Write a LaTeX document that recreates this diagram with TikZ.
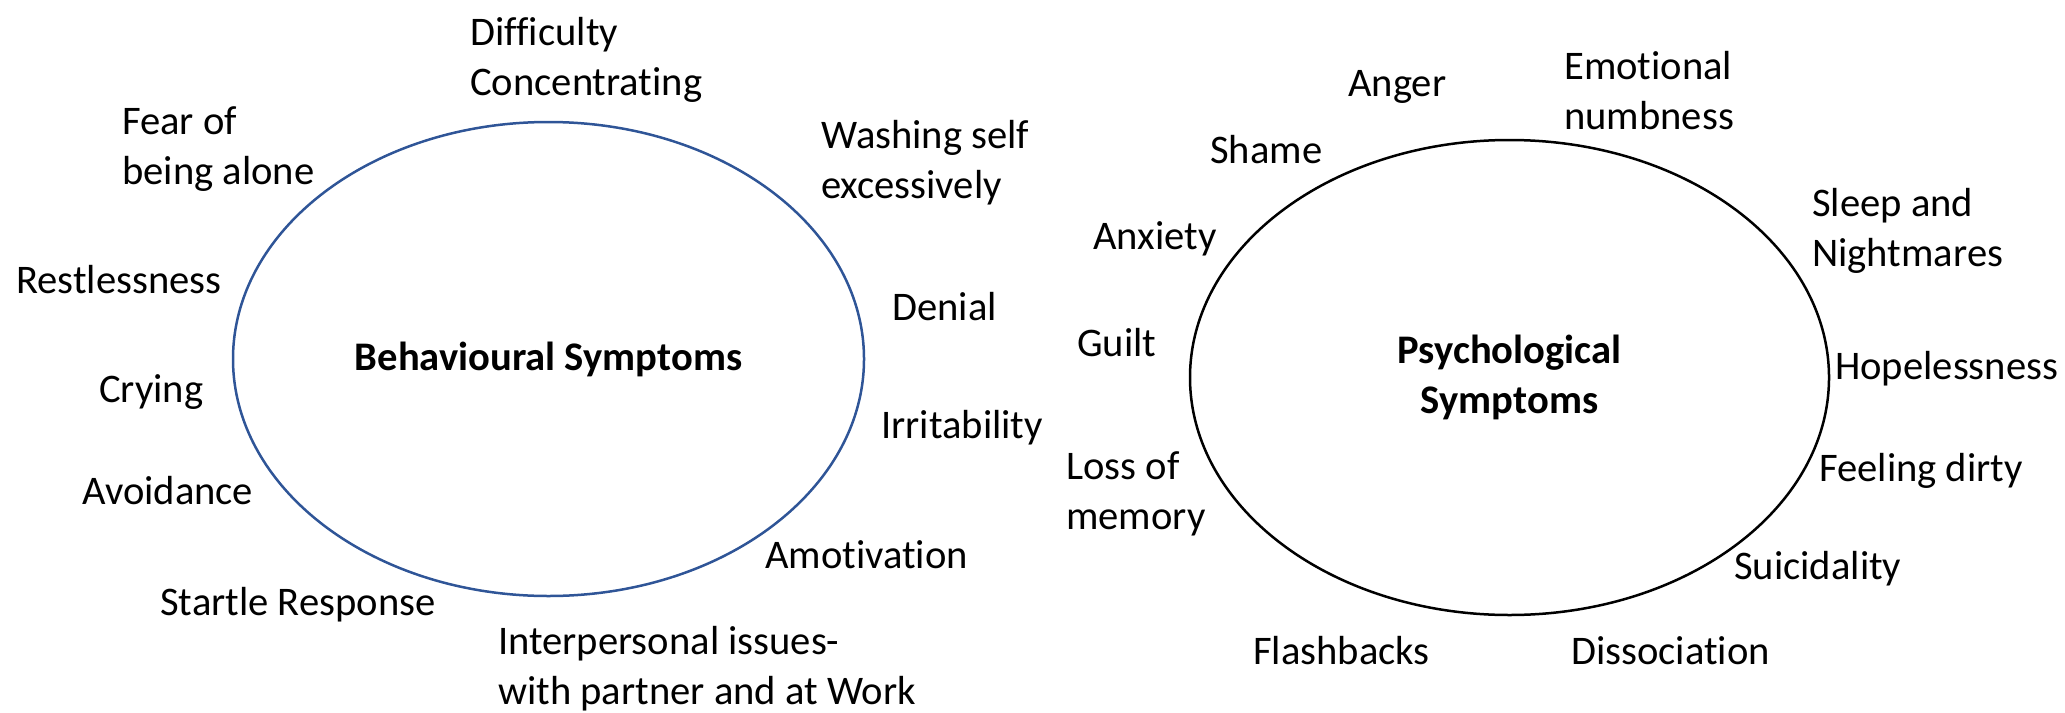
\documentclass[tikz,border=0pt]{standalone}
\usepackage{fontspec}
\setmainfont[Ligatures=NoCommon]{Carlito}
\usetikzlibrary{shapes.geometric}
\tikzset{
every picture/.style={
line width=1.25pt
}}
\definecolor{ringblue}{RGB}{47,85,151}

\begin{document}
\begin{tikzpicture}[x=0.5pt, y=-0.5pt,
symptom/.style = {anchor=base west, inner sep=0pt, align=left, font=\fontsize{20.3}{25}\selectfont},
ring/.style = {ellipse, draw, inner sep=0pt, align=center, font=\fontsize{20.3}{25}\selectfont\bfseries}]

\useasboundingbox (0,0) rectangle (2065,712);

% left ring (two-line labels sit on their last line)
\node [ring, ringblue, text=black, minimum width=315.5pt, minimum height=237pt] (behav) at (548.5,359) {Behavioural Symptoms};

\node [symptom] (difficulty) at (469,95) {Difficulty\\Concentrating};
\node [symptom] (fear) at (121,184) {Fear of\\being alone};
\node [symptom] (washing) at (820,198) {Washing self\\excessively};
\node [symptom] (restless) at (15,293) {Restlessness};
\node [symptom] (denial) at (891,320) {Denial};
\node [symptom] (crying) at (98,402) {Crying};
\node [symptom] (irritab) at (880,438) {Irritability};
\node [symptom] (avoid) at (81,504) {Avoidance};
\node [symptom] (amotiv) at (764,568) {Amotivation};
\node [symptom] (startle) at (159,615) {Startle Response};
\node [symptom] (interpers) at (497,704) {Interpersonal issues-\\with partner and at Work};

% right ring
\node [ring, minimum width=319.5pt, minimum height=237.5pt] (psych) at (1509.5,377.5) {Psychological\\Symptoms};

\node [symptom] (anger) at (1347,96) {Anger};
\node [symptom] (emotional) at (1563,129) {Emotional\\numbness};
\node [symptom] (shame) at (1209,163) {Shame};
\node [symptom] (sleep) at (1811,266) {Sleep and\\Nightmares};
\node [symptom] (anxiety) at (1092,249) {Anxiety};
\node [symptom] (guilt) at (1076,356) {Guilt};
\node [symptom] (hopeless) at (1834,379) {Hopelessness};
\node [symptom] (loss) at (1065,529) {Loss of\\memory};
\node [symptom] (dirty) at (1818,481) {Feeling dirty};
\node [symptom] (suicid) at (1733,579) {Suicidality};
\node [symptom] (flash) at (1252,664) {Flashbacks};
\node [symptom] (dissoc) at (1570,664) {Dissociation};

\end{tikzpicture}
\end{document}
